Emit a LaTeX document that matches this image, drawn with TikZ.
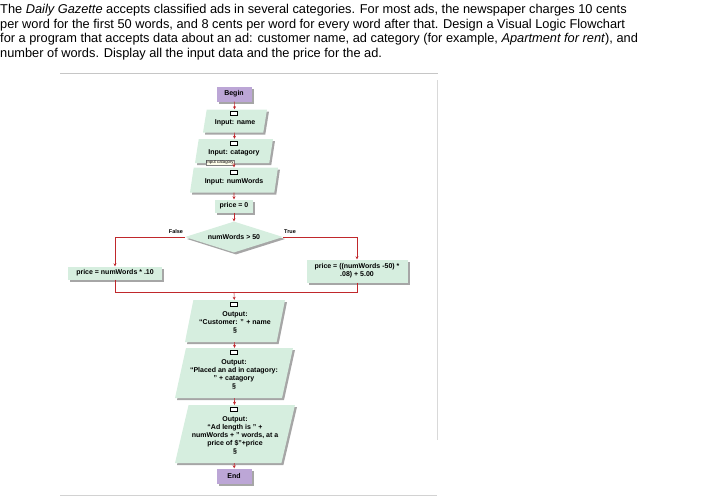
\documentclass[tikz,border=0pt]{standalone}
\usepackage{fontspec}
\setmainfont{Liberation Sans}
\usetikzlibrary{shapes.geometric,shadows,arrows.meta}
\definecolor{mint}{HTML}{D6EEDF}
\definecolor{lav}{HTML}{BCA6D6}
\definecolor{lnk}{HTML}{C0282C}
\tikzset{
  base/.style={font=\fontsize{7}{8}\selectfont\bfseries, align=center, inner sep=1.5pt,
    drop shadow={shadow xshift=2pt,shadow yshift=-2pt,fill=gray!70,opacity=1}},
  term/.style={base, fill=lav, minimum width=35pt, minimum height=15pt},
  proc/.style={base, fill=mint, minimum height=13pt},
  io/.style={base, fill=mint, trapezium, trapezium left angle=72, trapezium right angle=108,
    trapezium stretches body, inner ysep=1pt, inner xsep=0pt},
  dec/.style={base, fill=mint, diamond, aspect=3.2, inner sep=0pt, minimum width=98pt, minimum height=31pt},
  conn/.style={draw=lnk, line width=0.6pt, -{Stealth[length=3pt,width=3pt]}},
  seg/.style={draw=lnk, line width=0.6pt},
  icon/.style={draw=black, fill=white, line width=0.5pt, minimum width=7pt, minimum height=4.5pt, inner sep=0pt},
  para/.style={anchor=west, inner sep=0pt, font=\fontsize{12.8}{14}\selectfont},
  lab/.style={font=\fontsize{5.5}{6}\selectfont\bfseries}
}
\begin{document}
\begin{tikzpicture}[x=1pt,y=-1pt]
\useasboundingbox (0,0) rectangle (715,501);
% paragraph
\node[para] (p1) at (0,10) {The \emph{Daily Gazette} accepts classified ads in several categories. For most ads, the newspaper charges 10 cents};
\node[para] (p2) at (0,25) {per word for the first 50 words, and 8 cents per word for every word after that. Design a Visual Logic Flowchart};
\node[para] (p3) at (0,39.5) {for a program that accepts data about an ad: customer name, ad category (for example, \emph{Apartment for rent}), and};
\node[para] (p4) at (0,54) {number of words. Display all the input data and the price for the ad.};
% frame
\draw[gray!45, line width=1pt] (60,73) -- (438,73);
\draw[gray!30, line width=0.8pt] (437,80) -- (437,440);
\draw[gray!35, line width=0.8pt] (60,495) -- (437,495);
% nodes
\node[term] (begin) at (234,94) {Begin};
\node[io, minimum width=64pt, minimum height=23pt] (in1) at (235,121) {\\[0pt]Input: name};
\node[io, minimum width=78pt, minimum height=24pt] (in2) at (234,151) {\\[0pt]Input: catagory};
\node[io, minimum width=88pt, minimum height=25pt] (in3) at (234,180) {\\[0pt]Input: numWords};
\node[proc, minimum width=38pt] (p0) at (234,206) {price = 0};
\node[dec] (d) at (234,237) {numWords > 50};
\node[lab] (fl) at (176,232) {False};
\node[lab] (tl) at (290,232) {True};
\node[proc, minimum width=94pt] (lb) at (115,273) {price = numWords * .10};
\node[proc, minimum width=101pt, minimum height=23pt] (rb) at (357,271) {price = ((numWords -50) *\\.08) + 5.00};
\coordinate (m) at (234,292);
\node[io, minimum width=100pt, minimum height=42pt] (o1) at (235,321) {\\[-1pt]Output:\\``Customer: '' + name\\§};
\node[io, minimum width=118pt, minimum height=50pt] (o2) at (234,373) {\\[-1pt]Output:\\``Placed an ad in catagory:\\'' + catagory\\§};
\node[io, minimum width=120pt, minimum height=58pt] (o3) at (235,434) {\\[-1pt]Output:\\``Ad length is '' +\\numWords + '' words, at a\\price of \$''+price\\§};
\node[term] (end) at (234,476) {End};
% icons
\foreach \n/\y in {in1/113, in2/143, in3/172, o1/304, o2/352, o3/409}{
  \node[icon] (ic\n) at (234,\y) {};
}
\node[draw=gray, fill=yellow!8, font=\fontsize{4.3}{4.5}\selectfont, inner sep=0.6pt] (tip) at (220,162.5) {Input catagory};
% connectors
\draw[conn] (begin) -- (in1);
\draw[conn] (in1) -- (in2);
\draw[conn] (in2) -- (in3);
\draw[conn] (in3) -- (p0);
\draw[conn] (p0) -- (d);
\draw[conn] (d.west) -| (lb.north);
\draw[conn] (d.east) -| (rb.north);
\draw[seg] (lb.south) |- (m);
\draw[seg] (rb.south) |- (m);
\draw[conn] (m) -- (o1);
\draw[conn] (o1) -- (o2);
\draw[conn] (o2) -- (o3);
\draw[conn] (o3) -- (end);
\end{tikzpicture}
\end{document}
